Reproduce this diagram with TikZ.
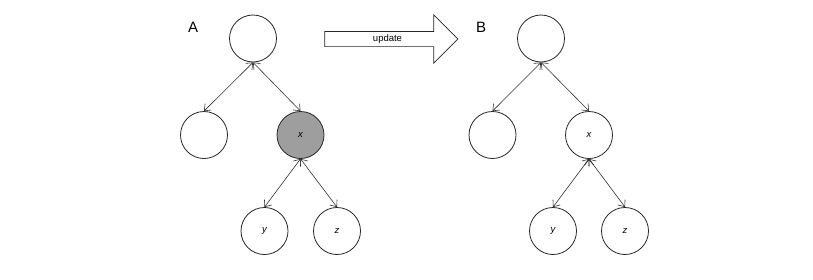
\documentclass[tikz,border=0pt]{standalone}
\usepackage{fontspec}
\setmainfont{Liberation Sans}
\usetikzlibrary{arrows.meta,shapes.arrows}

\tikzset{
  vertex/.style={circle, draw=black!85, line width=0.8pt, minimum size=47pt, inner sep=0pt,
    font=\fontsize{9.5}{11}\selectfont\itshape},
  marked/.style={vertex, fill=black!38},
  treelabel/.style={font=\fontsize{15}{17}\selectfont},
  link/.style={<->, draw=black!80, line width=0.6pt,
    >={Straight Barb[length=5.5pt,width=9pt]}},
}

\begin{document}
\begin{tikzpicture}[x=1pt,y=-1pt]
  \useasboundingbox (0,0) rectangle (813,279);
  % tree before
  \node [treelabel] (la) at (193,27) {A};
  \node [vertex] (a-r) at (253,38.5) {};
  \node [vertex] (a-l) at (204,135) {};
  \node [marked] (a-x) at (300.5,135) {x};
  \node [vertex] (a-y) at (264.5,231) {y};
  \node [vertex] (a-z) at (337,231) {z};
  % the update step
  \node [single arrow, draw=black!85, line width=0.7pt, fill=white,
    minimum height=133pt, minimum width=48pt, single arrow head extend=16.5pt,
    inner ysep=3pt, text height=6.5pt, text depth=2pt,
    font=\fontsize{9.5}{10}\selectfont] (upd) at (387.5,39) {update};
  % tree after
  \node [treelabel] (lb) at (481,27) {B};
  \node [vertex] (b-r) at (541,38.5) {};
  \node [vertex] (b-l) at (492.5,135) {};
  \node [vertex] (b-x) at (589,135) {x};
  \node [vertex] (b-y) at (553,231) {y};
  \node [vertex] (b-z) at (625,231) {z};
  \path[link]
    (a-r.south) edge (a-l.north)
    (a-r.south) edge (a-x.north)
    (a-x.south) edge (a-y.north)
    (a-x.south) edge (a-z.north)
    (b-r.south) edge (b-l.north)
    (b-r.south) edge (b-x.north)
    (b-x.south) edge (b-y.north)
    (b-x.south) edge (b-z.north);
\end{tikzpicture}
\end{document}
